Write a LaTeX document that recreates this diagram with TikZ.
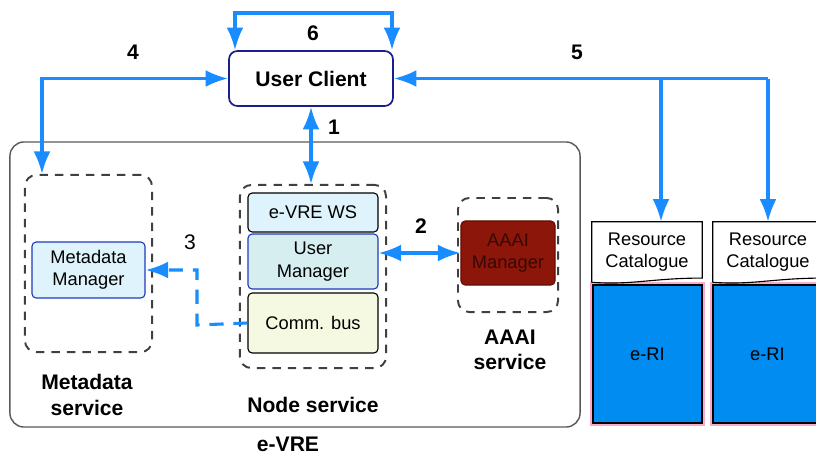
\documentclass[tikz,border=0pt]{standalone}
\usepackage{fontspec}
\setmainfont{Liberation Sans}
\usepackage{tikz}
\usetikzlibrary{arrows.meta}
\definecolor{linkblue}{RGB}{25,140,255}
\definecolor{ucborder}{RGB}{25,30,140}
\definecolor{wsfill}{RGB}{222,243,251}
\definecolor{umfill}{RGB}{214,238,240}
\definecolor{umborder}{RGB}{30,60,190}
\definecolor{cbfill}{RGB}{246,249,226}
\definecolor{amfill}{RGB}{140,22,10}
\definecolor{amtext}{RGB}{55,8,4}
\definecolor{riblue}{RGB}{0,140,240}
\definecolor{glow}{RGB}{250,170,200}

\begin{document}
\begin{tikzpicture}[x=0.025cm, y=-0.025cm,
  small/.style = {font=\fontsize{13}{16}\selectfont, align=center},
  big/.style = {font=\fontsize{15}{18}\selectfont\bfseries, align=center},
  box/.style = {draw, rounded corners=3pt, line width=0.8pt, inner sep=0pt, small},
  service/.style = {draw=black!75, dash pattern=on 6pt off 5pt, line width=1.4pt, rounded corners=8pt, inner sep=0pt},
  ri/.style = {draw=black, line width=1pt, fill=riblue, small, minimum width=2.725cm, minimum height=3.45cm, preaction={draw=glow, line width=4pt}},
  link/.style = {draw=linkblue, line width=2.2pt},
  tip/.tip = {Latex[length=16pt,width=12pt]}]
    \useasboundingbox (0,0) rectangle (816,455);
    \clip (0,0) rectangle (816,455);
    % e-VRE frame and services
    \node[draw=black!65, line width=1pt, rounded corners=10pt, minimum width=14.25cm, minimum height=7.125cm] (evre) at (295,284.5) {};
    \node[service, minimum width=3.175cm, minimum height=4.425cm] (mds) at (88.5,263.5) {};
    \node[service, minimum width=3.65cm, minimum height=4.575cm] (nds) at (313,276.5) {};
    \node[service, minimum width=2.5cm, minimum height=2.85cm] (ads) at (508,255) {};
    % boxes
    \node[box, draw=ucborder, line width=1.2pt, rounded corners=6pt, fill=white, minimum width=4.1cm, minimum height=1.375cm, big] (uc) at (311,78.5) {User Client};
    \node[box, draw=umborder, fill=wsfill, minimum width=2.825cm, minimum height=1.4cm] (mm) at (88.5,270) {Metadata\\Manager};
    \node[box, fill=wsfill, minimum width=3.25cm, minimum height=0.975cm] (ws) at (313,212.5) {e-VRE WS};
    \node[box, draw=umborder, fill=umfill, minimum width=3.25cm, minimum height=1.375cm] (um) at (313,261.5) {User\\Manager};
    \node[box, fill=cbfill, minimum width=3.25cm, minimum height=1.5cm] (cb) at (313,323) {Comm. bus};
    \node[box, draw=amfill!70!black, fill=amfill, text=amtext, minimum width=2.35cm, minimum height=1.6cm] (am) at (508,253) {AAAI\\Manager};
    % e-RI columns
    \node[small, inner sep=0pt, minimum width=2.75cm, minimum height=1.5cm] (rc1) at (647,252) {Resource\\Catalogue};
    \node[small, inner sep=0pt, minimum width=2.75cm, minimum height=1.5cm] (rc2) at (768,252) {Resource\\Catalogue};
    \node[ri] (eri1) at (647.5,354) {e-RI};
    \node[ri] (eri2) at (767.5,354) {e-RI};
    \foreach \r in {rc1,rc2}
        \draw[line width=0.8pt] (\r.south west) -- (\r.north west) -- (\r.north east) -- ([yshift=3pt]\r.south east) .. controls +(-50,0) and +(40,3) .. (\r.south west);
    % labels
    \node[big] (lmds) at (87,395) {Metadata\\service};
    \node[big] (lnds) at (313,405) {Node service};
    \node[big] (lads) at (510,350) {AAAI\\service};
    \node[big] (levre) at (288,444) {e-VRE};
    % connectors
    \coordinate (c6a) at (235,13);
    \coordinate (c6b) at (392,13);
    \coordinate (c4) at (42,78.5);
    \coordinate (c5a) at (661,78.5);
    \coordinate (c5b) at (768,78.5);
    \coordinate (c3) at (197,325);
    \draw[link, tip-tip] (c6a |- uc.north) -- (c6a) -- (c6b) -- (c6b |- uc.north);
    \draw[link, tip-tip] (uc.west) -- (c4) -- (c4 |- mds.north);
    \draw[link, tip-tip] (uc.south) -- (uc.south |- nds.north);
    \draw[link, tip-] (uc.east) -- (c5b);
    \draw[link, -tip] (c5a) -- (c5a |- rc1.north);
    \draw[link, -tip] (c5b) -- (rc2.north);
    \draw[link, tip-tip] (am.west -| um.east) -- (am.west);
    \draw[link, -tip, dash pattern=on 10pt off 7pt] (cb.west) -- (c3) -- (c3 |- mm.east) -- (mm.east);
    \node[big] (n6) at (313,33) {6};
    \node[big] (n4) at (133,52) {4};
    \node[big] (n5) at (577,52) {5};
    \node[big] (n1) at (334,127) {1};
    \node[big] (n2) at (421,226) {2};
    \node[small, font=\fontsize{15}{18}\selectfont] (n3) at (190,242) {3};
\end{tikzpicture}
\end{document}
